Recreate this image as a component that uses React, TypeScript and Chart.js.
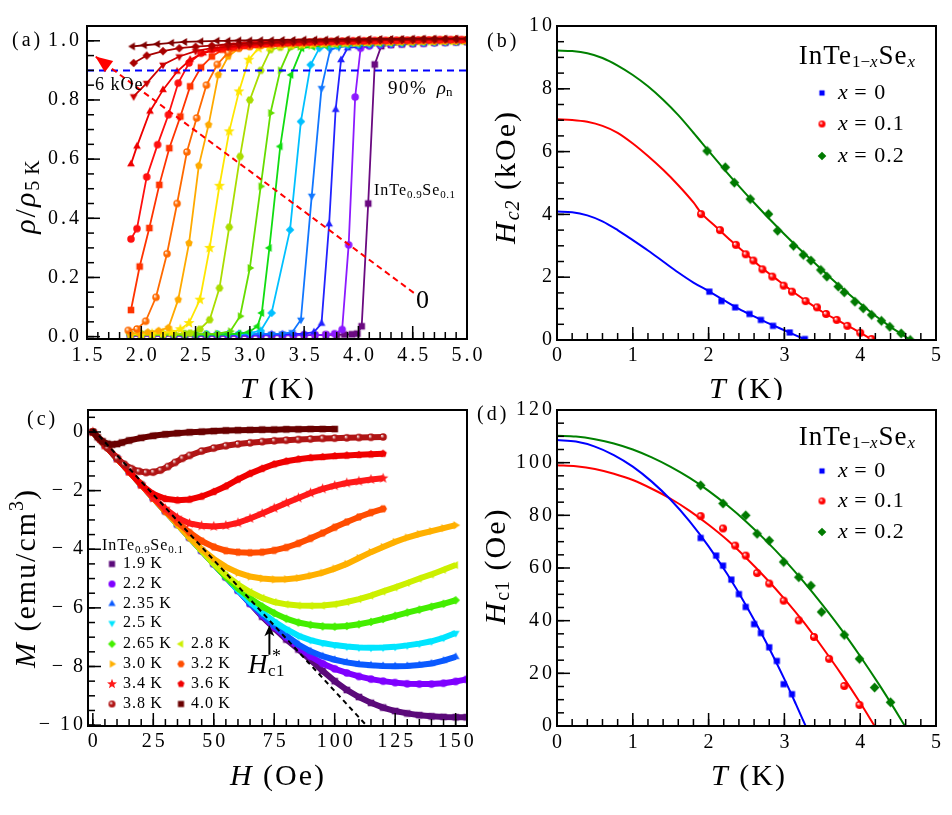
import React, { useEffect, useRef } from 'react';
import { Chart, registerables } from 'chart.js';

Chart.register(...registerables);

const SERIF = "'Liberation Serif', 'Times New Roman', serif";

// ---------------- Panel (a): rho/rho5K vs T (0 ... 6 kOe) ----------------
const aRho0 = [[1.9,.003],[2.0,.003],[2.1,.003],[2.2,.003],[2.3,.003],[2.4,.003],[2.5,.003],[2.6,.003],[2.7,.003],[2.8,.003],[2.9,.003],[3.0,.003],[3.1,.004],[3.2,.004],[3.3,.004],[3.4,.004],[3.5,.005],[3.6,.005],[3.7,.006],[3.8,.006],[3.87,.007],[3.94,.008],[3.99,.01],[4.03,.035],[4.09,.45],[4.15,.92],[4.21,.982],[4.3,.986],[4.4,.988],[4.5,.99],[4.6,.991],[4.7,.993],[4.8,.994],[4.9,.995],[5.0,.996]];
const aRho1 = [[1.9,.004],[2.0,.004],[2.1,.004],[2.2,.004],[2.3,.004],[2.4,.004],[2.5,.004],[2.6,.004],[2.7,.004],[2.8,.004],[2.9,.004],[3.0,.004],[3.1,.005],[3.2,.005],[3.3,.005],[3.4,.005],[3.5,.006],[3.6,.006],[3.7,.007],[3.78,.01],[3.85,.024],[3.91,.31],[3.97,.81],[4.02,.975],[4.1,.982],[4.2,.986],[4.3,.988],[4.4,.99],[4.5,.991],[4.6,.992],[4.7,.994],[4.8,.995],[4.9,.996],[5.0,.997]];
const aRho2 = [[1.9,.006],[2.0,.006],[2.1,.006],[2.2,.006],[2.3,.006],[2.4,.006],[2.5,.006],[2.6,.006],[2.7,.006],[2.8,.007],[2.9,.007],[3.0,.007],[3.1,.007],[3.2,.008],[3.3,.008],[3.4,.009],[3.5,.01],[3.59,.015],[3.66,.044],[3.73,.38],[3.79,.767],[3.84,.935],[3.9,.975],[4.0,.98],[4.1,.984],[4.2,.987],[4.3,.989],[4.4,.99],[4.5,.992],[4.6,.993],[4.7,.994],[4.8,.995],[4.9,.996],[5.0,.997]];
const aRho3 = [[1.9,.007],[2.0,.007],[2.1,.007],[2.2,.007],[2.3,.007],[2.4,.007],[2.5,.007],[2.6,.007],[2.7,.007],[2.8,.008],[2.9,.008],[3.0,.008],[3.1,.009],[3.2,.009],[3.3,.01],[3.39,.015],[3.47,.057],[3.57,.476],[3.66,.84],[3.74,.97],[3.82,.978],[3.9,.982],[4.0,.985],[4.1,.987],[4.2,.989],[4.3,.99],[4.4,.991],[4.5,.992],[4.6,.993],[4.7,.994],[4.8,.995],[4.9,.996],[5.0,.997]];
const aRho4 = [[1.9,.008],[2.0,.008],[2.1,.008],[2.2,.008],[2.3,.008],[2.4,.008],[2.5,.008],[2.6,.009],[2.7,.009],[2.8,.009],[2.9,.01],[3.0,.012],[3.1,.02],[3.2,.08],[3.37,.361],[3.47,.727],[3.56,.919],[3.64,.975],[3.72,.98],[3.8,.983],[3.9,.986],[4.0,.988],[4.1,.99],[4.2,.991],[4.3,.992],[4.4,.993],[4.5,.994],[4.6,.995],[4.7,.996],[4.8,.997],[4.9,.998],[5.0,.998]];
const aRho5 = [[1.9,.006],[2.0,.006],[2.1,.006],[2.2,.006],[2.3,.006],[2.4,.006],[2.5,.007],[2.6,.007],[2.7,.007],[2.8,.008],[2.9,.01],[2.99,.015],[3.07,.035],[3.11,.08],[3.18,.30],[3.28,.643],[3.38,.885],[3.48,.975],[3.58,.98],[3.7,.984],[3.8,.986],[3.9,.988],[4.0,.99],[4.1,.991],[4.2,.992],[4.3,.993],[4.4,.994],[4.5,.995],[4.6,.996],[4.7,.997],[4.8,.998],[4.9,.998],[5.0,.999]];
const aRho6 = [[1.9,.007],[2.0,.007],[2.1,.007],[2.2,.007],[2.3,.007],[2.4,.008],[2.5,.008],[2.6,.009],[2.7,.01],[2.82,.018],[2.91,.069],[3.0,.232],[3.1,.508],[3.19,.756],[3.28,.9],[3.37,.975],[3.46,.98],[3.56,.984],[3.66,.987],[3.76,.989],[3.86,.99],[3.96,.992],[4.06,.993],[4.16,.994],[4.26,.995],[4.36,.996],[4.46,.997],[4.56,.998],[4.66,.998],[4.76,.999],[4.86,.999],[4.96,1.0]];
const aRho7 = [[1.9,.008],[2.0,.008],[2.1,.008],[2.2,.008],[2.3,.009],[2.4,.01],[2.45,.012],[2.54,.025],[2.63,.057],[2.72,.164],[2.81,.37],[2.91,.609],[3.0,.8],[3.1,.9],[3.19,.97],[3.28,.978],[3.38,.982],[3.48,.985],[3.58,.988],[3.68,.99],[3.78,.991],[3.88,.992],[3.98,.993],[4.08,.994],[4.18,.995],[4.28,.996],[4.38,.997],[4.48,.997],[4.58,.998],[4.68,.998],[4.78,.999],[4.88,.999],[4.98,1.0]];
const aRho8 = [[1.9,.008],[2.0,.009],[2.1,.01],[2.2,.012],[2.28,.015],[2.36,.025],[2.44,.046],[2.54,.125],[2.63,.30],[2.72,.51],[2.81,.694],[2.9,.829],[2.99,.936],[3.08,.975],[3.18,.98],[3.28,.984],[3.38,.987],[3.48,.989],[3.58,.99],[3.68,.992],[3.78,.993],[3.88,.994],[3.98,.995],[4.08,.996],[4.18,.997],[4.28,.997],[4.38,.998],[4.48,.998],[4.58,.999],[4.68,.999],[4.78,1.0],[4.88,1.0],[4.98,1.0]];
const aRho9 = [[1.9,.01],[1.98,.012],[2.06,.015],[2.16,.02],[2.25,.03],[2.34,.125],[2.44,.316],[2.53,.578],[2.62,.716],[2.71,.885],[2.8,.947],[2.9,.975],[3.0,.98],[3.1,.984],[3.2,.987],[3.3,.989],[3.4,.99],[3.5,.992],[3.6,.993],[3.7,.994],[3.8,.995],[3.9,.996],[4.0,.997],[4.1,.997],[4.2,.998],[4.3,.998],[4.4,.999],[4.5,.999],[4.6,1.0],[4.7,1.0],[4.8,1.0],[4.9,1.001],[5.0,1.001]];
const aRho10 = [[1.88,.021],[1.96,.026],[2.04,.052],[2.135,.133],[2.237,.28],[2.33,.45],[2.42,.624],[2.51,.739],[2.6,.85],[2.7,.92],[2.8,.96],[2.9,.975],[3.0,.981],[3.1,.985],[3.2,.988],[3.3,.99],[3.4,.992],[3.5,.993],[3.6,.994],[3.7,.995],[3.8,.996],[3.9,.997],[4.0,.998],[4.1,.998],[4.2,.999],[4.3,.999],[4.4,1.0],[4.5,1.0],[4.6,1.001],[4.7,1.001],[4.8,1.002],[4.9,1.002],[5.0,1.002]];
const aRho11 = [[1.905,.09],[1.985,.237],[2.074,.367],[2.166,.513],[2.258,.637],[2.36,.744],[2.45,.846],[2.55,.91],[2.65,.947],[2.75,.97],[2.85,.977],[2.95,.982],[3.05,.986],[3.15,.989],[3.25,.991],[3.35,.993],[3.45,.994],[3.55,.995],[3.65,.996],[3.75,.997],[3.85,.998],[3.95,.998],[4.05,.999],[4.15,.999],[4.25,1.0],[4.35,1.0],[4.45,1.001],[4.55,1.001],[4.65,1.002],[4.75,1.002],[4.85,1.003],[4.95,1.003]];
const aRho12 = [[1.905,.33],[1.96,.365],[2.05,.54],[2.15,.649],[2.25,.75],[2.34,.857],[2.44,.925],[2.55,.958],[2.65,.97],[2.75,.977],[2.85,.982],[2.95,.986],[3.05,.989],[3.15,.991],[3.25,.993],[3.35,.994],[3.45,.995],[3.55,.996],[3.65,.997],[3.75,.998],[3.85,.999],[3.95,1.0],[4.05,1.0],[4.15,1.001],[4.25,1.001],[4.35,1.002],[4.45,1.002],[4.55,1.003],[4.65,1.003],[4.75,1.004],[4.85,1.004],[4.95,1.004]];
const aRho13 = [[1.905,.583],[1.96,.643],[2.08,.761],[2.2,.834],[2.33,.896],[2.45,.936],[2.57,.958],[2.7,.97],[2.8,.976],[2.9,.981],[3.0,.985],[3.1,.988],[3.2,.99],[3.3,.992],[3.4,.994],[3.5,.995],[3.6,.996],[3.7,.997],[3.8,.998],[3.9,.999],[4.0,1.0],[4.1,1.0],[4.2,1.001],[4.3,1.002],[4.4,1.002],[4.5,1.003],[4.6,1.003],[4.7,1.004],[4.8,1.004],[4.9,1.005],[5.0,1.005]];
const aRho14 = [[1.93,.812],[2.05,.857],[2.2,.919],[2.35,.947],[2.5,.965],[2.65,.975],[2.8,.98],[2.9,.984],[3.0,.987],[3.1,.99],[3.2,.992],[3.3,.993],[3.4,.995],[3.5,.996],[3.6,.997],[3.7,.998],[3.8,.999],[3.9,1.0],[4.0,1.0],[4.1,1.001],[4.2,1.002],[4.3,1.002],[4.4,1.003],[4.5,1.003],[4.6,1.004],[4.7,1.004],[4.8,1.005],[4.9,1.005],[5.0,1.005]];
const aRho15 = [[1.93,.925],[2.05,.95],[2.2,.965],[2.35,.975],[2.5,.98],[2.65,.984],[2.8,.988],[2.9,.99],[3.0,.992],[3.1,.993],[3.2,.995],[3.3,.996],[3.4,.997],[3.5,.998],[3.6,.999],[3.7,1.0],[3.8,1.0],[3.9,1.001],[4.0,1.002],[4.1,1.002],[4.2,1.003],[4.3,1.003],[4.4,1.004],[4.5,1.004],[4.6,1.005],[4.7,1.005],[4.8,1.006],[4.9,1.006],[5.0,1.006]];
const aRho16 = [[1.92,.981],[2.03,.985],[2.15,.989],[2.28,.993],[2.4,.996],[2.55,.998],[2.7,1.0],[2.8,1.0],[2.9,1.001],[3.0,1.001],[3.1,1.002],[3.2,1.002],[3.3,1.003],[3.4,1.003],[3.5,1.004],[3.6,1.004],[3.7,1.004],[3.8,1.005],[3.9,1.005],[4.0,1.005],[4.1,1.006],[4.2,1.006],[4.3,1.006],[4.4,1.006],[4.5,1.007],[4.6,1.007],[4.7,1.007],[4.8,1.007],[4.9,1.007],[5.0,1.007]];
const aCurves = [aRho0, aRho1, aRho2, aRho3, aRho4, aRho5, aRho6, aRho7, aRho8, aRho9, aRho10, aRho11, aRho12, aRho13, aRho14, aRho15, aRho16];
const aColors = ['#6a0a80', '#8c1aff', '#2222ff', '#1177ff', '#00c0ff', '#11dd11', '#66dd00', '#aadd00', '#ffe600', '#ffaa00', '#ff6a00', '#ff3300', '#ff0f0f', '#ee0000', '#cc0000', '#a80000', '#800000'];
const aShapes = ['square', 'circle', 'up', 'down', 'diamond', 'left', 'right', 'hexagon', 'star', 'pentagon', 'sphere', 'square', 'circle', 'up', 'down', 'diamond', 'left'];
const aNinetyLine = [[1.5, 0.9], [5.0, 0.9]];
const aFieldArrow = [[4.51, 0.148], [1.577, 0.947]];
const aXTicks = [1.5, 2.0, 2.5, 3.0, 3.5, 4.0, 4.5, 5.0];
const aXTickLabels = ['1.5', '2.0', '2.5', '3.0', '3.5', '4.0', '4.5', '5.0'];
const aYTicks = [0, 0.2, 0.4, 0.6, 0.8, 1.0];
const aYTickLabels = ['0.0', '0.2', '0.4', '0.6', '0.8', '1.0'];

// ---------------- Panel (b): Hc2 vs T ----------------
const bT0 = [2.01, 2.17, 2.35, 2.54, 2.69, 2.85, 3.07, 3.27];
const bH0 = [1.54, 1.24, 1.04, 0.83, 0.64, 0.45, 0.24, 0.03];
const bT1 = [1.90, 2.15, 2.36, 2.49, 2.59, 2.71, 2.84, 2.99, 3.10, 3.28, 3.43, 3.55, 3.69, 3.83, 4.0, 4.15];
const bH1 = [4.01, 3.50, 3.03, 2.73, 2.53, 2.25, 2.02, 1.73, 1.54, 1.24, 1.04, 0.83, 0.64, 0.45, 0.23, 0.03];
const bT2 = [1.98, 2.22, 2.34, 2.55, 2.79, 2.91, 3.12, 3.25, 3.35, 3.48, 3.56, 3.71, 3.79, 3.93, 4.04, 4.15, 4.28, 4.39, 4.54, 4.66];
const bH2 = [6.02, 5.50, 5.01, 4.49, 4.01, 3.48, 3.0, 2.71, 2.53, 2.23, 2.02, 1.70, 1.52, 1.22, 1.01, 0.80, 0.61, 0.42, 0.21, 0.0];
const bFitT0 = [0, 0.2, 0.4, 0.6, 0.8, 1.0, 1.2, 1.4, 1.6, 1.8, 2.0, 2.2, 2.4, 2.6, 2.8, 3.0, 3.15, 3.27];
const bFitH0 = [4.09, 4.07, 3.97, 3.78, 3.5, 3.18, 2.85, 2.5, 2.15, 1.83, 1.56, 1.27, 0.99, 0.75, 0.52, 0.31, 0.15, 0.02];
const bFitT1 = [0, 0.2, 0.4, 0.6, 0.8, 1.0, 1.2, 1.4, 1.6, 1.8, 1.9, 2.1, 2.3, 2.5, 2.7, 2.9, 3.1, 3.3, 3.5, 3.7, 3.9, 4.05, 4.15];
const bFitH1 = [7.03, 7.01, 6.95, 6.82, 6.6, 6.26, 5.86, 5.42, 4.93, 4.38, 4.05, 3.6, 3.15, 2.73, 2.3, 1.93, 1.56, 1.22, 0.9, 0.63, 0.37, 0.16, 0.02];
const bFitT2 = [0, 0.2, 0.4, 0.6, 0.8, 1.0, 1.2, 1.4, 1.6, 1.8, 2.0, 2.2, 2.4, 2.6, 2.8, 3.0, 3.2, 3.4, 3.6, 3.8, 4.0, 4.2, 4.4, 4.55, 4.66];
const bFitH2 = [9.22, 9.2, 9.13, 8.98, 8.74, 8.44, 8.08, 7.65, 7.16, 6.6, 6.02, 5.45, 4.9, 4.37, 3.86, 3.37, 2.9, 2.45, 2.0, 1.57, 1.16, 0.77, 0.42, 0.18, 0.0];
const bYTicks = [0, 2, 4, 6, 8, 10];
const bYTickLabels = ['0', '2', '4', '6', '8', '10'];
const tXTicks = [0, 1, 2, 3, 4, 5];
const tXTickLabels = ['0', '1', '2', '3', '4', '5'];
const xLegend = ['0', '0.1', '0.2'];

// ---------------- Panel (c): M vs H ----------------
const cM19 = [[0,0],[5,-0.45],[10,-0.9],[15,-1.35],[20,-1.8],[25,-2.25],[30,-2.7],[35,-3.15],[40,-3.6],[45,-4.05],[50,-4.5],[55,-4.95],[60,-5.4],[65,-5.85],[70,-6.3],[75,-6.7],[80,-7.08],[85,-7.42],[90,-7.78],[95,-8.15],[100,-8.5],[105,-8.8],[110,-9.04],[115,-9.24],[120,-9.4],[125,-9.52],[130,-9.6],[135,-9.66],[140,-9.7],[145,-9.72],[150,-9.73],[154.5,-9.73]];
const cM22 = [[0,0],[5,-0.45],[10,-0.9],[15,-1.35],[20,-1.8],[25,-2.25],[30,-2.7],[35,-3.15],[40,-3.6],[45,-4.05],[50,-4.5],[55,-4.95],[60,-5.4],[65,-5.85],[70,-6.25],[75,-6.65],[80,-7.0],[85,-7.35],[90,-7.65],[95,-7.9],[100,-8.08],[105,-8.22],[110,-8.34],[115,-8.43],[120,-8.5],[125,-8.55],[130,-8.59],[135,-8.6],[140,-8.6],[145,-8.57],[150,-8.51],[154.5,-8.44]];
const cM235 = [[0,0],[5,-0.45],[10,-0.9],[15,-1.35],[20,-1.8],[25,-2.25],[30,-2.7],[35,-3.15],[40,-3.6],[45,-4.05],[50,-4.5],[55,-4.95],[60,-5.4],[65,-5.85],[70,-6.22],[75,-6.6],[80,-6.95],[85,-7.25],[90,-7.48],[95,-7.65],[100,-7.77],[105,-7.86],[110,-7.92],[115,-7.96],[120,-7.98],[125,-7.99],[130,-7.98],[135,-7.95],[140,-7.9],[145,-7.8],[150,-7.67]];
const cM25 = [[0,0],[5,-0.45],[10,-0.9],[15,-1.35],[20,-1.8],[25,-2.25],[30,-2.7],[35,-3.15],[40,-3.6],[45,-4.05],[50,-4.5],[55,-4.95],[60,-5.4],[65,-5.8],[70,-6.15],[75,-6.47],[80,-6.73],[85,-6.95],[90,-7.1],[95,-7.2],[100,-7.27],[105,-7.32],[110,-7.35],[115,-7.36],[120,-7.35],[125,-7.33],[130,-7.28],[135,-7.22],[140,-7.14],[145,-7.02],[150,-6.86]];
const cM265 = [[0,0],[5,-0.45],[10,-0.9],[15,-1.35],[20,-1.8],[25,-2.25],[30,-2.7],[35,-3.15],[40,-3.6],[45,-4.05],[50,-4.5],[55,-4.95],[60,-5.33],[65,-5.67],[70,-5.95],[75,-6.18],[80,-6.37],[85,-6.5],[90,-6.58],[95,-6.63],[100,-6.64],[105,-6.62],[110,-6.56],[115,-6.48],[120,-6.38],[125,-6.27],[130,-6.16],[135,-6.06],[140,-5.96],[145,-5.86],[150,-5.74]];
const cM28 = [[0,0],[5,-0.45],[10,-0.9],[15,-1.35],[20,-1.8],[25,-2.25],[30,-2.7],[35,-3.15],[40,-3.6],[45,-4.05],[50,-4.5],[55,-4.88],[60,-5.2],[65,-5.46],[70,-5.66],[75,-5.8],[80,-5.88],[85,-5.92],[90,-5.93],[95,-5.92],[100,-5.88],[105,-5.8],[110,-5.7],[115,-5.58],[120,-5.44],[125,-5.3],[130,-5.15],[135,-5.0],[140,-4.86],[145,-4.7],[150,-4.54]];
const cM30 = [[0,0],[5,-0.45],[10,-0.9],[15,-1.35],[20,-1.8],[25,-2.25],[30,-2.7],[35,-3.15],[40,-3.6],[45,-4.0],[50,-4.33],[55,-4.6],[60,-4.8],[65,-4.93],[70,-5.0],[75,-5.03],[80,-5.02],[85,-4.98],[90,-4.9],[95,-4.8],[100,-4.66],[105,-4.5],[110,-4.3],[115,-4.1],[120,-3.92],[125,-3.75],[130,-3.6],[135,-3.48],[140,-3.38],[145,-3.28],[150,-3.18]];
const cM32 = [[0,0],[5,-0.45],[10,-0.9],[15,-1.35],[20,-1.8],[25,-2.25],[30,-2.7],[35,-3.08],[40,-3.43],[45,-3.72],[50,-3.92],[55,-4.05],[60,-4.1],[65,-4.12],[70,-4.1],[75,-4.04],[80,-3.94],[85,-3.8],[90,-3.63],[95,-3.45],[100,-3.25],[105,-3.07],[110,-2.9],[115,-2.75],[120,-2.62]];
const cM34 = [[0,0],[5,-0.45],[10,-0.9],[15,-1.35],[20,-1.8],[25,-2.25],[30,-2.62],[35,-2.93],[40,-3.12],[45,-3.2],[50,-3.22],[55,-3.19],[60,-3.1],[65,-2.95],[70,-2.78],[75,-2.6],[80,-2.42],[85,-2.25],[90,-2.08],[95,-1.94],[100,-1.83],[105,-1.74],[110,-1.68],[115,-1.62],[120,-1.58]];
const cM36 = [[0,0],[5,-0.45],[10,-0.9],[15,-1.35],[20,-1.8],[25,-2.12],[30,-2.28],[35,-2.33],[40,-2.3],[45,-2.2],[50,-2.04],[55,-1.85],[60,-1.62],[65,-1.42],[70,-1.25],[75,-1.1],[80,-1.0],[85,-0.93],[90,-0.88],[95,-0.85],[100,-0.82],[105,-0.8],[110,-0.78],[115,-0.76],[120,-0.74]];
const cM38 = [[0,0],[3,-0.27],[6,-0.54],[10,-0.9],[13,-1.1],[16,-1.25],[19,-1.34],[22,-1.38],[25,-1.37],[28,-1.3],[31,-1.18],[34,-1.04],[37,-0.9],[40,-0.8],[45,-0.65],[50,-0.55],[55,-0.47],[60,-0.41],[65,-0.37],[70,-0.33],[75,-0.3],[80,-0.28],[85,-0.26],[90,-0.24],[95,-0.22],[100,-0.21],[105,-0.2],[110,-0.19],[115,-0.18],[120,-0.17]];
const cM40 = [[0,0],[2,-0.18],[4,-0.32],[6,-0.4],[8,-0.43],[10,-0.41],[12,-0.36],[15,-0.29],[20,-0.2],[25,-0.13],[30,-0.08],[35,-0.04],[40,-0.01],[45,0.01],[50,0.03],[55,0.05],[60,0.06],[65,0.07],[70,0.08],[75,0.08],[80,0.09],[85,0.09],[90,0.1],[95,0.1],[100,0.1]];
const cCurves = [cM19, cM22, cM235, cM25, cM265, cM28, cM30, cM32, cM34, cM36, cM38, cM40];
const cTemps = ['1.9', '2.2', '2.35', '2.5', '2.65', '2.8', '3.0', '3.2', '3.4', '3.6', '3.8', '4.0'];
const cColors = ['#5b0a7a', '#7f00ff', '#0a5aff', '#00e5ff', '#44ee00', '#ccf000', '#ffb000', '#ff4d00', '#ff1a1a', '#f00000', '#b01515', '#6a0000'];
const cShapes = ['square', 'circle', 'up', 'down', 'diamond', 'left', 'right', 'hexagon', 'star', 'pentagon', 'sphere', 'square'];
const cDashLine = [[0, 0.1], [113, -10]];
const cArrow = [[73, -7.6], [73, -6.59]];
const cXTicks = [0, 25, 50, 75, 100, 125, 150];
const cXTickLabels = ['0', '25', '50', '75', '100', '125', '150'];
const cYTicks = [0, -2, -4, -6, -8, -10];
const cYTickLabels = ['0', '\u2212\u20092', '\u2212\u20094', '\u2212\u20096', '\u2212\u20098', '\u2212\u200910'];

// ---------------- Panel (d): Hc1 vs T ----------------
const dT0 = [1.895, 2.10, 2.19, 2.30, 2.40, 2.49, 2.60, 2.69, 2.80, 2.90, 2.99, 3.10];
const dH0 = [71.4, 64.7, 60.9, 55.6, 50.1, 45.2, 38.7, 35.3, 29.9, 24.7, 15.9, 12.1];
const dT1 = [1.895, 2.19, 2.35, 2.49, 2.64, 2.80, 2.99, 3.19, 3.39, 3.59, 3.79, 3.99];
const dH1 = [79.7, 75.0, 68.5, 64.7, 58.1, 54.1, 47.6, 40.1, 33.8, 25.5, 15.2, 8.0];
const dT2 = [1.895, 2.19, 2.49, 2.64, 2.80, 2.99, 3.19, 3.35, 3.49, 3.79, 3.99, 4.19, 4.40];
const dH2 = [91.4, 84.5, 80.0, 73.0, 70.4, 62.3, 56.5, 53.3, 43.3, 34.6, 25.5, 14.6, 9.0];
const dFitT0 = [0, 0.25, 0.5, 0.75, 1, 1.25, 1.5, 1.75, 2, 2.25, 2.5, 2.75, 3, 3.15, 3.28];
const dFitH0 = [108.6, 108.0, 106.1, 102.9, 98.5, 92.8, 85.9, 77.7, 68.2, 57.5, 45.5, 32.3, 17.8, 8.4, 0];
const dFitT1 = [0, 0.25, 0.5, 0.75, 1, 1.25, 1.5, 1.75, 2, 2.25, 2.5, 2.75, 3, 3.25, 3.5, 3.75, 4, 4.19];
const dFitH1 = [99, 98.6, 97.6, 95.8, 93.4, 90.1, 86.3, 81.7, 76.4, 70.5, 63.7, 56.3, 48.3, 39.6, 29.9, 19.7, 8.8, 0];
const dFitT2 = [0, 0.25, 0.5, 0.75, 1, 1.25, 1.5, 1.75, 2, 2.25, 2.5, 2.75, 3, 3.25, 3.5, 3.75, 4, 4.25, 4.45, 4.59];
const dFitH2 = [110.2, 109.9, 108.9, 107.3, 105.0, 102.0, 98.4, 94.2, 89.3, 83.7, 77.5, 70.6, 63.1, 54.9, 46.1, 36.7, 26.5, 15.7, 6.6, 0];
const dYTicks = [0, 20, 40, 60, 80, 100, 120];
const dYTickLabels = ['0', '20', '40', '60', '80', '100', '120'];

const seriesColors = ['#0000ff', '#ff0000', '#007a00'];
const fitColors = ['#0000ff', '#ff0000', '#008000'];

// ---------------- helpers ----------------
type Seg = { t: string; size: number; it?: boolean; dy?: number; ls?: number; dx?: number };

function setFont(ctx: any, s: Seg) {
  ctx.font = `${s.it ? 'italic ' : ''}${s.size}px ${SERIF}`;
  ctx.letterSpacing = `${s.ls || 0}px`;
}

function drawRich(ctx: any, segs: Seg[], x: number, y: number, align = 'left', rot = 0) {
  ctx.save();
  ctx.translate(x, y);
  if (rot) ctx.rotate(rot);
  ctx.fillStyle = '#000';
  ctx.textBaseline = 'middle';
  ctx.textAlign = 'left';
  const ws = segs.map((s) => { setFont(ctx, s); return ctx.measureText(s.t).width + (s.dx || 0); });
  const total = ws.reduce((p, q) => p + q, 0) - (segs[segs.length - 1].ls || 0);
  let cx = align === 'left' ? 0 : align === 'center' ? -total / 2 : -total;
  segs.forEach((s, i) => {
    setFont(ctx, s);
    ctx.fillText(s.t, cx + (s.dx || 0), s.dy || 0);
    cx += ws[i];
  });
  ctx.letterSpacing = '0px';
  ctx.restore();
}

function makeMarker(shape: string, color: string, size: number): HTMLCanvasElement {
  const s = Math.ceil(size * 1.5) + 2;
  const c = document.createElement('canvas');
  c.width = s; c.height = s;
  const g = c.getContext('2d') as CanvasRenderingContext2D;
  const cx = s / 2, cy = s / 2, r = size / 2;
  const poly = (n: number, rad: number, start: number) => {
    g.beginPath();
    for (let i = 0; i < n; i++) {
      const ang = start + (i * 2 * Math.PI) / n;
      const px = cx + rad * Math.cos(ang), py = cy + rad * Math.sin(ang);
      if (i === 0) g.moveTo(px, py); else g.lineTo(px, py);
    }
    g.closePath();
  };
  g.fillStyle = color;
  if (shape === 'square') { g.beginPath(); g.rect(cx - r * 0.88, cy - r * 0.88, r * 1.76, r * 1.76); }
  else if (shape === 'circle') { g.beginPath(); g.arc(cx, cy, r, 0, Math.PI * 2); }
  else if (shape === 'sphere') {
    const grd = g.createRadialGradient(cx - r * 0.35, cy - r * 0.35, r * 0.05, cx, cy, r);
    grd.addColorStop(0, '#ffffff'); grd.addColorStop(0.5, color); grd.addColorStop(1, color);
    g.fillStyle = grd; g.beginPath(); g.arc(cx, cy, r, 0, Math.PI * 2);
  }
  else if (shape === 'up') poly(3, r * 1.2, -Math.PI / 2);
  else if (shape === 'down') poly(3, r * 1.2, Math.PI / 2);
  else if (shape === 'left') poly(3, r * 1.2, Math.PI);
  else if (shape === 'right') poly(3, r * 1.2, 0);
  else if (shape === 'diamond') poly(4, r * 1.15, -Math.PI / 2);
  else if (shape === 'pentagon') poly(5, r * 1.05, -Math.PI / 2);
  else if (shape === 'hexagon') poly(6, r * 1.05, 0);
  else if (shape === 'star') {
    g.beginPath();
    for (let i = 0; i < 10; i++) {
      const rad = i % 2 === 0 ? r * 1.3 : r * 0.55;
      const ang = -Math.PI / 2 + (i * Math.PI) / 5;
      const px = cx + rad * Math.cos(ang), py = cy + rad * Math.sin(ang);
      if (i === 0) g.moveTo(px, py); else g.lineTo(px, py);
    }
    g.closePath();
  }
  g.fill();
  return c;
}

const toXY = (pts: number[][]) => pts.map((p) => ({ x: p[0], y: p[1] }));
const zipXY = (xs: number[], ys: number[]) => xs.map((x, i) => ({ x, y: ys[i] }));
function stepsBetween(a: number, b: number, step: number) {
  const out: number[] = [];
  const n = Math.round((b - a) / step);
  for (let i = 0; i <= n; i++) out.push(+(a + i * step).toFixed(6));
  return out;
}

type AxisSpec = {
  xmin: number; xmax: number; ymin: number; ymax: number;
  xMajor: number[]; xMinor: number[]; yMajor: number[]; yMinor: number[];
};

function frameDataset(s: AxisSpec) {
  return {
    data: [{ x: s.xmin, y: s.ymin }, { x: s.xmax, y: s.ymin }, { x: s.xmax, y: s.ymax }, { x: s.xmin, y: s.ymax }, { x: s.xmin, y: s.ymin }],
    showLine: true, borderColor: '#000000', borderWidth: 2, pointRadius: 0, order: -10, clip: 4,
  };
}

function drawAxisTicks(chart: any, s: AxisSpec) {
  const ctx = chart.ctx;
  const X = chart.scales.x; const Y = chart.scales.y;
  const xL = X.getPixelForValue(s.xmin), xR = X.getPixelForValue(s.xmax);
  const yT = Y.getPixelForValue(s.ymax), yB = Y.getPixelForValue(s.ymin);
  ctx.save();
  ctx.fillStyle = '#000000';
  const tw = 1.5;
  s.xMinor.forEach((v) => ctx.fillRect(X.getPixelForValue(v) - tw / 2, yB - 7, tw, 7));
  s.xMajor.forEach((v) => ctx.fillRect(X.getPixelForValue(v) - tw / 2, yB - 13, tw, 13));
  s.yMinor.forEach((v) => ctx.fillRect(xL, Y.getPixelForValue(v) - tw / 2, 7, tw));
  s.yMajor.forEach((v) => ctx.fillRect(xL, Y.getPixelForValue(v) - tw / 2, 13, tw));
  ctx.fillRect(xL - 1, yT - 1, xR - xL + 2, 2);
  ctx.fillRect(xL - 1, yB - 1, xR - xL + 2, 2);
  ctx.fillRect(xL - 1, yT - 1, 2, yB - yT + 2);
  ctx.fillRect(xR - 1, yT - 1, 2, yB - yT + 2);
  ctx.restore();
}

function drawTickLabels(chart: any, xMajor: number[], xLabels: string[], yMajor: number[], yLabels: string[], xLabelY: number, yLabelRight: number) {
  const ctx = chart.ctx;
  const X = chart.scales.x; const Y = chart.scales.y;
  xMajor.forEach((v, i) => drawRich(ctx, [{ t: xLabels[i], size: 20, ls: 3 }], X.getPixelForValue(v), xLabelY, 'center'));
  yMajor.forEach((v, i) => drawRich(ctx, [{ t: yLabels[i], size: 20, ls: 3 }], yLabelRight, Y.getPixelForValue(v), 'right'));
}

function baseOptions(s: AxisSpec, padding: any) {
  return {
    responsive: false,
    maintainAspectRatio: false,
    animation: false,
    devicePixelRatio: 1,
    events: [],
    layout: { padding },
    plugins: { legend: { display: false }, tooltip: { enabled: false } },
    scales: {
      x: { type: 'linear', min: s.xmin, max: s.xmax, display: false },
      y: { type: 'linear', min: s.ymin, max: s.ymax, display: false },
    },
  };
}

const XTITLE_T: Seg[] = [{ t: 'T', size: 30, it: true, ls: 2 }, { t: ' (K)', size: 30, ls: 2 }];

const axisA: AxisSpec = { xmin: 1.5, xmax: 5.0, ymin: -0.008, ymax: 1.05, xMajor: aXTicks, xMinor: stepsBetween(1.5, 5.0, 0.1), yMajor: aYTicks, yMinor: stepsBetween(0, 1.0, 0.05) };
const axisB: AxisSpec = { xmin: 0, xmax: 5, ymin: 0, ymax: 10, xMajor: tXTicks, xMinor: stepsBetween(0, 5, 0.2), yMajor: bYTicks, yMinor: stepsBetween(0, 10, 0.5) };
const axisC: AxisSpec = { xmin: -2, xmax: 154.7, ymin: -10.03, ymax: 0.75, xMajor: cXTicks, xMinor: stepsBetween(0, 150, 5), yMajor: cYTicks, yMinor: stepsBetween(-10, 0.5, 0.5) };
const axisD: AxisSpec = { xmin: 0, xmax: 5, ymin: 0, ymax: 120, xMajor: tXTicks, xMinor: stepsBetween(0, 5, 0.2), yMajor: dYTicks, yMinor: stepsBetween(0, 120, 5) };

// ---------------- chart builders ----------------
function makeA(canvas: HTMLCanvasElement) {
  const datasets: any[] = [frameDataset(axisA)];
  datasets.push({ data: toXY(aFieldArrow), showLine: true, borderColor: '#ff0000', borderWidth: 2, borderDash: [6, 4], pointRadius: 0, order: -2 });
  datasets.push({ data: toXY(aNinetyLine), showLine: true, borderColor: '#0000ff', borderWidth: 2, borderDash: [7, 5], pointRadius: 0, order: -1 });
  for (let i = aCurves.length - 1; i >= 0; i--) {
    datasets.push({
      data: toXY(aCurves[i]), showLine: true, borderColor: aColors[i], borderWidth: 1.8,
      pointStyle: makeMarker(aShapes[i], aColors[i], aShapes[i] === 'star' ? 9 : 7.5), pointRadius: 4,
    });
  }
  const deco = {
    id: 'decoA',
    afterDraw(chart: any) {
      const ctx = chart.ctx;
      const X = chart.scales.x, Y = chart.scales.y;
      const x1 = X.getPixelForValue(aFieldArrow[0][0]), y1 = Y.getPixelForValue(aFieldArrow[0][1]);
      const x2 = X.getPixelForValue(aFieldArrow[1][0]), y2 = Y.getPixelForValue(aFieldArrow[1][1]);
      const len = Math.hypot(x2 - x1, y2 - y1); const ux = (x2 - x1) / len, uy = (y2 - y1) / len;
      ctx.save();
      ctx.fillStyle = '#ff0000';
      ctx.beginPath();
      ctx.moveTo(x2, y2);
      ctx.lineTo(x2 - ux * 17 - uy * 7, y2 - uy * 17 + ux * 7);
      ctx.lineTo(x2 - ux * 17 + uy * 7, y2 - uy * 17 - ux * 7);
      ctx.closePath(); ctx.fill();
      ctx.restore();
      drawAxisTicks(chart, axisA);
      drawTickLabels(chart, aXTicks, aXTickLabels, aYTicks, aYTickLabels, 356, 79);
      drawRich(ctx, [{ t: '(a)', size: 20, ls: 3 }], 12, 41, 'left');
      drawRich(ctx, XTITLE_T, 277, 390, 'center');
      drawRich(ctx, [
        { t: '\u03C1', size: 30, it: true, ls: 2 }, { t: '/', size: 30, ls: 2 }, { t: '\u03C1', size: 30, it: true, ls: 2 },
        { t: '5\u2009K', size: 20, dy: 7, ls: 1 },
      ], 27, 197, 'center', -Math.PI / 2);
      drawRich(ctx, [{ t: '6 kOe', size: 18, ls: 1 }], 95, 85, 'left');
      drawRich(ctx, [{ t: '90%', size: 19, ls: 1.5 }, { t: '  \u03C1', size: 19, it: true }, { t: 'n', size: 13, dy: 4 }], 388, 89, 'left');
      drawRich(ctx, [{ t: 'InTe', size: 16, ls: 1 }, { t: '0.9', size: 11, dy: 4, ls: 0.5 }, { t: 'Se', size: 16, ls: 1 }, { t: '0.1', size: 11, dy: 4, ls: 0.5 }], 374, 191, 'left');
      drawRich(ctx, [{ t: '0', size: 26 }], 416, 301, 'left');
    },
  };
  return new Chart(canvas, {
    type: 'scatter',
    data: { datasets },
    options: baseOptions(axisA, { left: 87, right: 23, top: 26, bottom: 61 }) as any,
    plugins: [deco],
  } as any);
}

function legendHc(ctx: any, titleY: number, rowsY: number[]) {
  drawRich(ctx, [
    { t: 'InTe', size: 27, ls: 1 }, { t: '1\u2212', size: 17, dy: 6 }, { t: 'x', size: 17, it: true, dy: 6 },
    { t: 'Se', size: 27, ls: 1, dx: 1 }, { t: 'x', size: 17, it: true, dy: 6 },
  ], 381, titleY, 'center');
  const shapes = ['square', 'sphere', 'diamond'];
  const sizes = [6, 7, 7.5];
  rowsY.forEach((y, i) => {
    const m = makeMarker(shapes[i], seriesColors[i], sizes[i]);
    ctx.drawImage(m, 346 - m.width / 2, y - m.height / 2);
    drawRich(ctx, [{ t: 'x', size: 22, it: true }, { t: ' = ' + xLegend[i], size: 22, ls: 1 }], 362, y, 'left');
  });
}

function hcDatasets(pointSets: { x: number; y: number }[][], fitSets: { x: number; y: number }[][], sizes: number[]) {
  const shapes = ['square', 'sphere', 'diamond'];
  const ds: any[] = [];
  pointSets.forEach((pts, i) => ds.push({
    data: pts, showLine: false, pointStyle: makeMarker(shapes[i], seriesColors[i], sizes[i]), pointRadius: 4, order: 0,
  }));
  fitSets.forEach((pts, i) => ds.push({
    data: pts, showLine: true, borderColor: fitColors[i], borderWidth: 2, pointRadius: 0, cubicInterpolationMode: 'monotone', order: 1,
  }));
  return ds;
}

function makeB(canvas: HTMLCanvasElement) {
  const datasets = [frameDataset(axisB) as any].concat(hcDatasets(
    [zipXY(bT0, bH0), zipXY(bT1, bH1), zipXY(bT2, bH2)],
    [zipXY(bFitT0, bFitH0), zipXY(bFitT1, bFitH1), zipXY(bFitT2, bFitH2)],
    [7, 8, 8.5],
  ));
  const deco = {
    id: 'decoB',
    afterDraw(chart: any) {
      const ctx = chart.ctx;
      drawAxisTicks(chart, axisB);
      drawTickLabels(chart, tXTicks, tXTickLabels, bYTicks, bYTickLabels, 356, 76);
      drawRich(ctx, [{ t: '(b)', size: 20, ls: 3 }], 11, 42, 'left');
      drawRich(ctx, XTITLE_T, 270, 390, 'center');
      drawRich(ctx, [
        { t: 'H', size: 30, it: true, ls: 2 }, { t: 'c2', size: 20, it: true, dy: 7, ls: 1 },
        { t: ' (kOe)', size: 30, ls: 2 },
      ], 31, 178, 'center', -Math.PI / 2);
      legendHc(ctx, 57, [93, 124, 156]);
    },
  };
  return new Chart(canvas, {
    type: 'scatter',
    data: { datasets },
    options: baseOptions(axisB, { left: 81, right: 16, top: 26, bottom: 60 }) as any,
    plugins: [deco],
  } as any);
}

function makeC(canvas: HTMLCanvasElement) {
  const datasets: any[] = [frameDataset(axisC)];
  datasets.push({ data: toXY(cDashLine), showLine: true, borderColor: '#000', borderWidth: 2, borderDash: [5, 4], pointRadius: 0, order: -1 });
  for (let i = cCurves.length - 1; i >= 0; i--) {
    datasets.push({
      data: toXY(cCurves[i]), showLine: true, borderColor: cColors[i], borderWidth: 6,
      pointStyle: makeMarker(cShapes[i], cColors[i], cShapes[i] === 'star' ? 8.5 : 7.5), pointRadius: 4,
    });
  }
  const deco = {
    id: 'decoC',
    afterDraw(chart: any) {
      const ctx = chart.ctx;
      const X = chart.scales.x, Y = chart.scales.y;
      const ax = X.getPixelForValue(cArrow[0][0]);
      const ay1 = Y.getPixelForValue(cArrow[0][1]);
      const ay2 = Y.getPixelForValue(cArrow[1][1]);
      ctx.save();
      ctx.fillStyle = '#000';
      ctx.fillRect(ax - 1, ay2 + 6, 2, ay1 - ay2 - 6);
      ctx.beginPath(); ctx.moveTo(ax, ay2); ctx.lineTo(ax - 5, ay2 + 11); ctx.lineTo(ax, ay2 + 8); ctx.lineTo(ax + 5, ay2 + 11); ctx.closePath(); ctx.fill();
      ctx.restore();
      drawRich(ctx, [{ t: 'H', size: 27, it: true }], 248, 266, 'left');
      drawRich(ctx, [{ t: '*', size: 18 }], 272, 257, 'left');
      drawRich(ctx, [{ t: 'c1', size: 17, ls: 0.5 }], 268, 272, 'left');
      drawAxisTicks(chart, axisC);
      drawTickLabels(chart, cXTicks, cXTickLabels, cYTicks, cYTickLabels, 342, 83);
      drawRich(ctx, [{ t: '(c)', size: 20, ls: 3 }], 27, 20, 'left');
      drawRich(ctx, [{ t: 'H', size: 30, it: true, ls: 2 }, { t: ' (Oe)', size: 30, ls: 2 }], 277, 377, 'center');
      drawRich(ctx, [
        { t: 'M', size: 30, it: true, ls: 2 }, { t: ' (emu/cm', size: 30, ls: 2 },
        { t: '3', size: 20, dy: -9, ls: 1 }, { t: ')', size: 30, ls: 2 },
      ], 27, 179, 'center', -Math.PI / 2);
      drawRich(ctx, [{ t: 'InTe', size: 16, ls: 1 }, { t: '0.9', size: 11, dy: 4, ls: 0.5 }, { t: 'Se', size: 16, ls: 1 }, { t: '0.1', size: 11, dy: 4, ls: 0.5 }], 102, 146, 'left');
      const rows = [164, 184, 204, 223, 244, 264, 284, 304];
      const place = [[0, 0], [0, 1], [0, 2], [0, 3], [0, 4], [1, 4], [0, 5], [1, 5], [0, 6], [1, 6], [0, 7], [1, 7]];
      place.forEach(([col, row], i) => {
        const mx = col === 0 ? 112 : 181;
        const tx = col === 0 ? 123 : 191;
        const m = makeMarker(cShapes[i], cColors[i], cShapes[i] === 'star' ? 8 : 7);
        ctx.drawImage(m, mx - m.width / 2, rows[row] - m.height / 2);
        drawRich(ctx, [{ t: cTemps[i] + '\u2009K', size: 16, ls: 1 }], tx, rows[row], 'left');
      });
    },
  };
  return new Chart(canvas, {
    type: 'scatter',
    data: { datasets },
    options: baseOptions(axisC, { left: 88, right: 23, top: 10, bottom: 89 }) as any,
    plugins: [deco],
  } as any);
}

function makeD(canvas: HTMLCanvasElement) {
  const datasets = [frameDataset(axisD) as any].concat(hcDatasets(
    [zipXY(dT0, dH0), zipXY(dT1, dH1), zipXY(dT2, dH2)],
    [zipXY(dFitT0, dFitH0), zipXY(dFitT1, dFitH1), zipXY(dFitT2, dFitH2)],
    [7, 8, 8.5],
  ));
  const deco = {
    id: 'decoD',
    afterDraw(chart: any) {
      const ctx = chart.ctx;
      drawAxisTicks(chart, axisD);
      drawTickLabels(chart, tXTicks, tXTickLabels, dYTicks, dYTickLabels, 343, 76);
      drawRich(ctx, [{ t: '(d)', size: 20, ls: 3 }], 1, 15, 'left');
      drawRich(ctx, XTITLE_T, 272, 377, 'center');
      drawRich(ctx, [
        { t: 'H', size: 30, it: true, ls: 2 }, { t: 'c1', size: 20, dy: 7, ls: 1 },
        { t: ' (Oe)', size: 30, ls: 2 },
      ], 21, 167, 'center', -Math.PI / 2);
      legendHc(ctx, 38, [71, 101, 132]);
    },
  };
  return new Chart(canvas, {
    type: 'scatter',
    data: { datasets },
    options: baseOptions(axisD, { left: 81, right: 16, top: 10, bottom: 89 }) as any,
    plugins: [deco],
  } as any);
}

function Panel({ make, left, top, width, height }: any) {
  const ref = useRef<HTMLCanvasElement>(null);
  useEffect(() => {
    const chart = make(ref.current as HTMLCanvasElement);
    return () => chart.destroy();
  }, [make]);
  return (
    <canvas
      ref={ref}
      width={width}
      height={height}
      style={{ position: 'absolute', left, top, width, height }}
    />
  );
}

export default function App() {
  return (
    <div style={{ position: 'fixed', left: 0, top: 0, width: 952, height: 815, background: '#ffffff', overflow: 'hidden' }}>
      <Panel make={makeA} left={0} top={0} width={490} height={400} />
      <Panel make={makeC} left={0} top={400} width={490} height={415} />
      <Panel make={makeB} left={476} top={0} width={476} height={400} />
      <Panel make={makeD} left={476} top={400} width={476} height={415} />
    </div>
  );
}
